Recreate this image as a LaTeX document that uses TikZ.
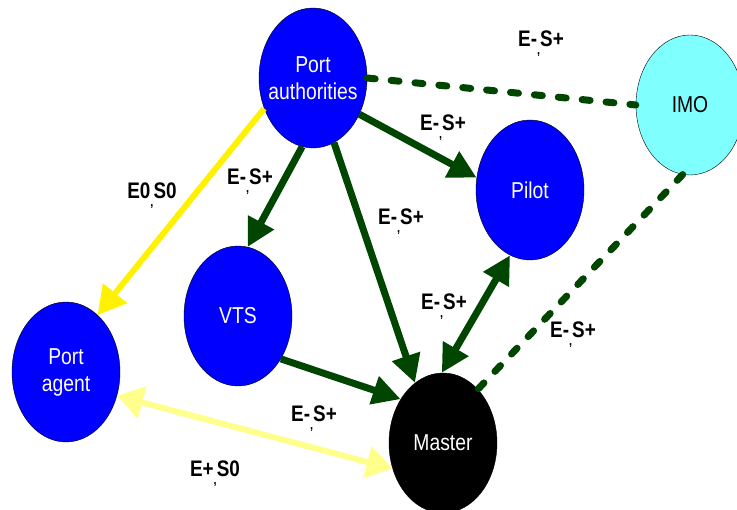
\documentclass[tikz,border=0pt]{standalone}
\usepackage{fontspec}
\setmainfont{Liberation Sans}
\usepackage{xcolor}
\usepackage{graphicx}
\usetikzlibrary{shapes.geometric,arrows.meta}
\definecolor{darkgreen}{RGB}{0,70,0}
\definecolor{paleyellow}{RGB}{255,255,140}
\definecolor{imocyan}{RGB}{128,255,255}
\newcommand{\lowcomma}{\raisebox{-0.6ex}{\fontsize{13}{13}\selectfont,}}
\newcommand{\narrow}[1]{\scalebox{0.84}[1]{#1}}

\begin{document}
\begin{tikzpicture}[x=1pt,y=-1pt,
    actor/.style={ellipse, draw=black, fill=blue, text=white, minimum width=108pt,
        minimum height=140pt, inner sep=0pt, align=center,
        font=\fontsize{23}{27}\selectfont},
    rel/.style={darkgreen, line width=7pt, -{Triangle[length=28pt,width=28pt]}},
    duty/.style={darkgreen, line width=7pt, dash pattern=on 8pt off 16pt, line cap=round},
    lab/.style={anchor=base, font=\fontsize{22.5}{25}\selectfont\bfseries}]
    \clip (0,0) rectangle (737,510);

    % Actors
    \node[actor, inner xsep=-12pt] (pa) at (313,78) {\narrow{Port}\\\narrow{authorities}};
    \node[actor, fill=imocyan, text=black] (imo) at (690,105) {\narrow{IMO}};
    \node[actor] (pilot) at (530,190) {\narrow{Pilot}};
    \node[actor] (vts) at (238,316) {\narrow{VTS}};
    \node[actor] (agent) at (66,372) {\narrow{Port}\\\narrow{agent}};
    \node[actor, fill=black] (master) at (443,443) {\narrow{Master}};

    % Relations
    \draw[duty] (pa.0) -- (imo.180);
    \draw[duty] (imo.264) -- (master.57);
    \draw[yellow, line width=6pt, -{Triangle[length=28pt,width=30pt]}] (pa.212) -- (agent.61);
    \draw[rel] (pa.261) -- (vts.82);
    \draw[rel] (pa.288) -- (master.115);
    \draw[rel] (pa.322) -- (pilot.167);
    \draw[rel] (vts.315) -- (master.134);
    \draw[rel, {Triangle[length=28pt,width=28pt]}-{Triangle[length=28pt,width=28pt]}] (pilot.253) -- (master.91);
    \draw[paleyellow, line width=6pt, {Triangle[length=26pt,width=32pt]}-{Triangle[length=26pt,width=32pt]}] (agent.335) -- (master.207);

    % Labels
    \node[lab] (l-imo) at (541,47) {\narrow{E-\lowcomma S+}};
    \node[lab] (l-pilot) at (443,131) {\narrow{E-\lowcomma S+}};
    \node[lab] (l-agent) at (152,199) {\narrow{E0\lowcomma S0}};
    \node[lab] (l-vts) at (250,185) {\narrow{E-\lowcomma S+}};
    \node[lab] (l-master) at (401,225) {\narrow{E-\lowcomma S+}};
    \node[lab] (l-pm) at (444,310) {\narrow{E-\lowcomma S+}};
    \node[lab] (l-im) at (573,338) {\narrow{E-\lowcomma S+}};
    \node[lab] (l-vm) at (314,422) {\narrow{E-\lowcomma S+}};
    \node[lab] (l-am) at (215,477) {\narrow{E+\lowcomma S0}};
\end{tikzpicture}
\end{document}
